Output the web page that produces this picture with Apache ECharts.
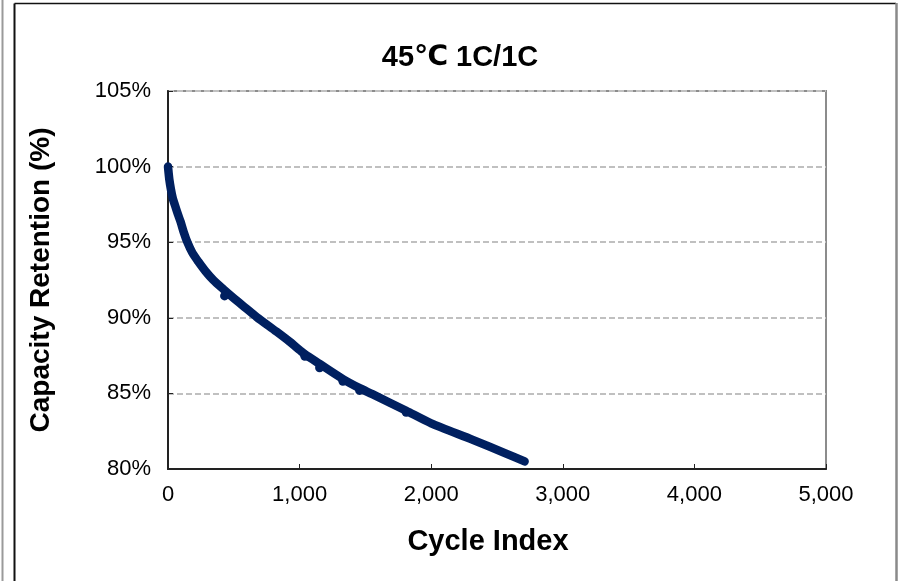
<!DOCTYPE html>
<html>
<head>
<meta charset="utf-8">
<title>45℃ 1C/1C</title>
<script src="https://cdn.jsdelivr.net/npm/echarts@6/dist/echarts.min.js"></script>
<style>
    html, body { margin: 0; padding: 0; background: #fff; }
    #chart { width: 901px; height: 581px; }
</style>
</head>
<body>
<div id="chart"></div>
<script>
    // cycle index / capacity retention
    var cycles = [0, 5, 10, 21, 35, 53, 75, 96, 120, 147, 185, 230, 285, 344, 420, 500, 580, 674, 825, 924, 1000, 1038, 1152, 1329, 1456, 1553, 1810, 2000, 2316, 2560, 2710];
    var retention = [100, 99.55, 99.15, 98.55, 97.95, 97.44, 96.85, 96.34, 95.65, 95.0, 94.3, 93.72, 93.08, 92.5, 91.9, 91.3, 90.72, 90.05, 89.08, 88.42, 87.87, 87.6, 86.95, 85.95, 85.35, 84.95, 83.85, 83.02, 81.93, 81.05, 80.5];
    // small downward blips on the curve
    var dipCycles = [430, 1040, 1152, 1329, 1456, 1810];
    var dipValues = [91.45, 87.45, 86.7, 85.8, 85.2, 83.75];

    var xTicks = [0, 1000, 2000, 3000, 4000, 5000];
    var yTicks = [80, 85, 90, 95, 100, 105];

    var font = "'Liberation Sans', Arial, sans-serif";
    var lineColor = '#002060';

    var mainData = [];
    for (var i = 0; i < cycles.length; i++) {
        mainData.push([cycles[i], retention[i]]);
    }
    var dipData = [];
    for (var j = 0; j < dipCycles.length; j++) {
        dipData.push([dipCycles[j], dipValues[j]]);
    }

    var chart = echarts.init(document.getElementById('chart'));
    var option = {
        backgroundColor: '#fff',
        animation: false,
        title: {
            text: '45{c|℃} 1C/1C',
            left: 455,
            top: 38,
            textAlign: 'center',
            textStyle: {
                fontFamily: font,
                fontSize: 29,
                fontWeight: 'bold',
                color: '#000',
                rich: {
                    c: {
                        fontFamily: "'DejaVu Sans', sans-serif",
                        fontSize: 28,
                        fontWeight: 'bold',
                        color: '#000'
                    }
                }
            }
        },
        grid: {
            left: 168,
            top: 91,
            right: 75,
            bottom: 112,
            show: true,
            borderColor: '#8c8c8c',
            borderWidth: 2
        },
        xAxis: {
            type: 'value',
            min: xTicks[0],
            max: xTicks[xTicks.length - 1],
            interval: 1000,
            name: 'Cycle Index',
            nameLocation: 'middle',
            nameGap: 58,
            nameTextStyle: {
                fontFamily: font,
                fontSize: 29,
                fontWeight: 'bold',
                color: '#000',
                padding: [0, 18, 0, 0]
            },
            axisLine: { show: true, lineStyle: { color: '#222', width: 2 } },
            axisTick: { show: true, inside: true, length: 5, lineStyle: { color: '#222', width: 1 } },
            axisLabel: {
                margin: 15,
                fontFamily: font,
                fontSize: 22,
                color: '#000',
                formatter: function (v) {
                    return String(v).replace(/\B(?=(\d{3})+(?!\d))/g, ',');
                }
            },
            splitLine: { show: false }
        },
        yAxis: {
            type: 'value',
            min: yTicks[0],
            max: yTicks[yTicks.length - 1],
            interval: 5,
            name: 'Capacity Retention (%)',
            nameLocation: 'middle',
            nameGap: 113,
            nameTextStyle: {
                fontFamily: font,
                fontSize: 28,
                fontWeight: 'bold',
                color: '#000'
            },
            axisLine: { show: true, lineStyle: { color: '#222', width: 2 } },
            axisTick: { show: true, inside: true, length: 5, lineStyle: { color: '#222', width: 1 } },
            axisLabel: {
                margin: 17,
                fontFamily: font,
                fontSize: 22,
                color: '#000',
                formatter: '{value}%'
            },
            splitLine: {
                show: true,
                lineStyle: { color: '#c0c0c0', width: 2, type: [6, 3] }
            }
        },
        series: [
            {
                name: '45℃ 1C/1C',
                type: 'line',
                data: mainData,
                smooth: 0.25,
                showSymbol: false,
                lineStyle: { color: lineColor, width: 8.5, cap: 'round', join: 'round' },
                z: 3
            },
            {
                name: 'dips',
                type: 'scatter',
                data: dipData,
                symbolSize: 9,
                itemStyle: { color: lineColor, opacity: 1 },
                z: 4
            }
        ],
        // outer frame of the picture
        graphic: [
            { type: 'line', shape: { x1: 2.5, y1: 0, x2: 2.5, y2: 581 }, style: { stroke: '#9a9a9a', lineWidth: 2 } },
            { type: 'line', shape: { x1: 14.5, y1: 3.5, x2: 14.5, y2: 581 }, style: { stroke: '#111', lineWidth: 2 } },
            { type: 'line', shape: { x1: 14.5, y1: 3.5, x2: 896, y2: 3.5 }, style: { stroke: '#111', lineWidth: 1.5 } },
            { type: 'line', shape: { x1: 896.5, y1: 3, x2: 896.5, y2: 581 }, style: { stroke: '#8a8a8a', lineWidth: 2.5 } }
        ]
    };
    chart.setOption(option);
</script>
</body>
</html>
